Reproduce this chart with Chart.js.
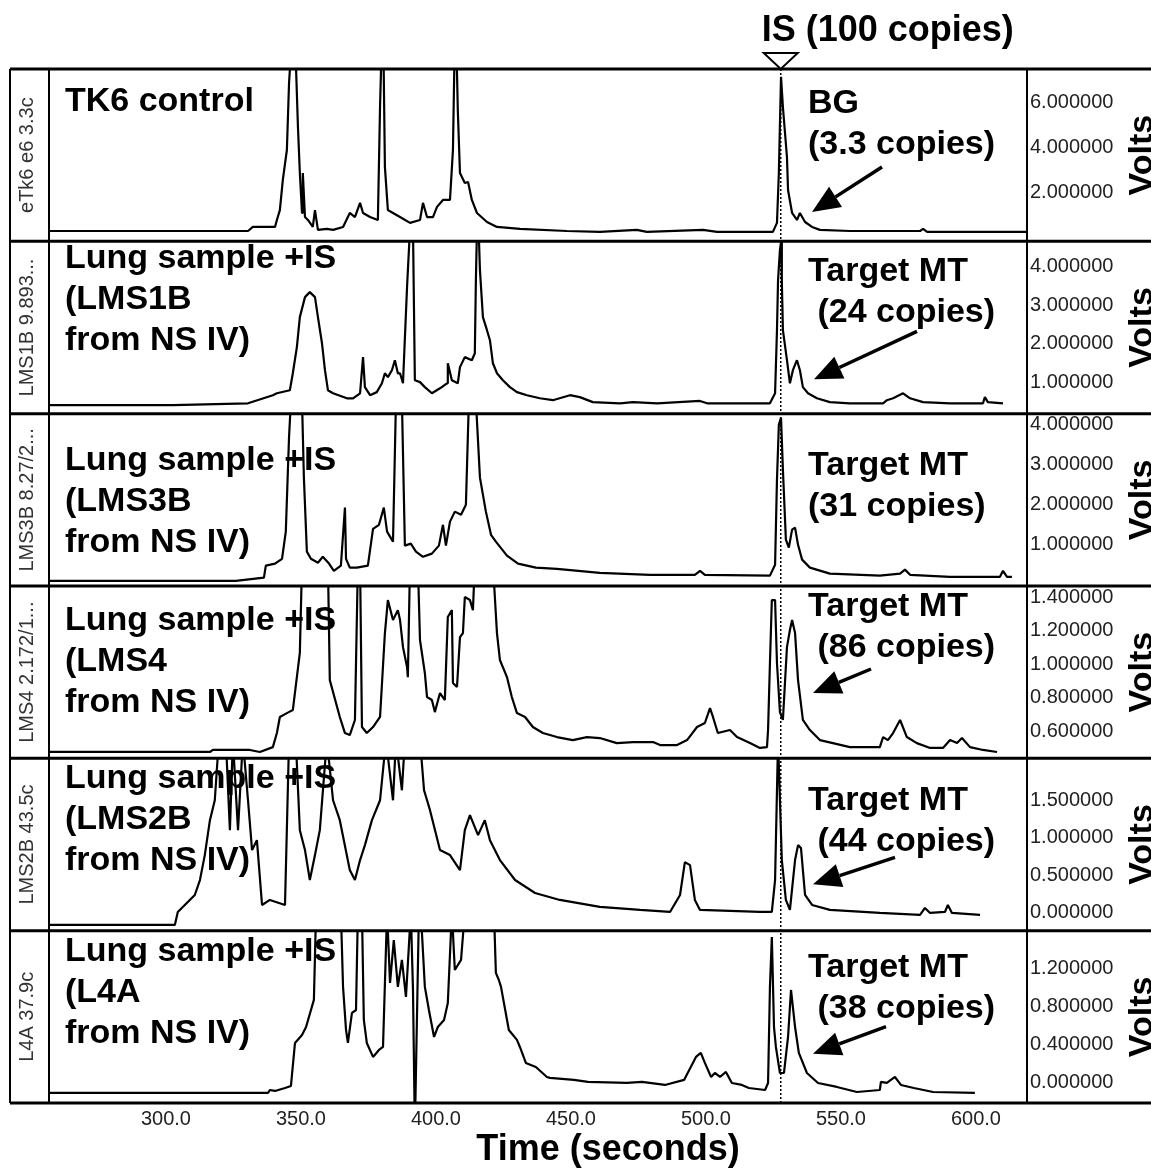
<!DOCTYPE html>
<html>
<head>
<meta charset="utf-8">
<title>CE traces</title>
<script src="https://cdn.jsdelivr.net/npm/chart.js"></script>
<style>
  html, body { margin: 0; padding: 0; background: #fff; }
  #wrap { width: 1151px; height: 1170px; }
</style>
</head>
<body>
<div id="wrap"><canvas id="traces" width="1151" height="1170"></canvas></div>
<script>
// Each trace is a list of [time (s), volts] readings
const tk6Control = [
  [256.7,0.31],[330.4,0.31],[332.2,0.49],[340.4,0.49],[341.1,0.8],[342.2,1.24],[343.3,2.58],[344.8,3.91],
  [345.6,6.89],[346.7,9],[347.8,9],[348.9,4.93],[349.6,2.89],[350.4,1.11],[350.7,2.89],[351.5,0.93],
  [352.6,0.8],[354.4,0.49],[355.2,1.24],[356.3,0.36],[359.6,0.4],[361.9,0.36],[365.6,0.49],[368.1,1.11],
  [370,0.93],[371.9,1.56],[373,1.11],[375.6,0.93],[378.5,0.8],[379.3,5.82],[380,9],[380.5,9],[381.1,3.16],
  [382.2,1.24],[384.1,1.11],[386.7,0.93],[390.4,0.67],[394.1,0.8],[395.2,1.56],[396.7,0.93],[398.9,0.93],
  [400.4,1.38],[402.6,1.69],[405.2,1.69],[406.3,3.91],[407,9],[407.5,9],[408.1,5.69],[408.9,2.89],
  [410.7,2.44],[411.9,2.49],[413.3,1.69],[415.2,1.11],[418.9,0.71],[422.6,0.49],[431.1,0.4],[448.5,0.31],
  [460.7,0.27],[474.4,0.36],[478.1,0.27],[498.9,0.36],[504.1,0.27],[524.8,0.27],[526.3,0.67],[527,2.89],
  [527.8,7.16],[528.5,5.82],[530,3.6],[530.4,2.13],[531.9,1.11],[533.7,0.8],[534.8,1.11],[536.7,0.71],
  [539.3,0.49],[542.2,0.36],[553.3,0.31],[579.3,0.31],[580.4,0.4],[581.9,0.27],[618.9,0.27]
];
const lms1b = [
  [256.7,0.4],[302.6,0.4],[330.4,0.45],[339.6,0.66],[341.1,0.71],[345.9,0.79],[347,1.23],[348.5,1.91],
  [349.6,2.69],[351.5,3.21],[353.3,3.34],[355.2,3.21],[356.3,2.69],[357.8,2.01],[358.9,1.31],[360,0.79],
  [361.9,0.71],[367,0.58],[369.3,0.58],[371.9,0.71],[373,1.65],[373.7,0.87],[375.6,0.66],[378.1,0.74],
  [380,0.97],[381.1,1.23],[382.2,1.13],[383.7,1.31],[384.8,1.57],[385.9,1.23],[386.7,1.23],[387.8,0.97],
  [389.3,3.47],[390.4,5],[391.5,5],[392.2,1.05],[394.1,1.0],[395.9,0.87],[398.5,0.71],[401.5,0.84],
  [404.1,0.97],[404.4,1.49],[405.9,1.05],[408.1,0.97],[408.9,1.39],[410.7,1.65],[413.3,1.57],[414.4,1.75],
  [414.8,3.65],[415.2,5],[415.8,5],[416.3,3.91],[417.4,2.69],[418.9,2.35],[420,2.09],[421.1,1.49],
  [422.6,1.23],[424.8,1.05],[427.4,0.87],[430,0.74],[433.7,0.66],[438.5,0.58],[443.3,0.53],[449.6,0.66],
  [453.3,0.61],[458.1,0.48],[468.1,0.45],[473,0.48],[481.9,0.45],[497.8,0.51],[500.4,0.45],[523.7,0.45],
  [525.6,0.71],[526.3,2.35],[526.7,3.65],[527.4,4.43],[527.8,4.64],[528.1,3.65],[528.5,2.35],[530,1.57],
  [531.1,0.97],[532.2,1.31],[533.7,1.57],[534.8,1.31],[535.9,0.87],[537.8,0.71],[541.1,0.58],[545.9,0.48],
  [553.3,0.45],[565.6,0.45],[567,0.53],[569.3,0.58],[573,0.71],[575.6,0.58],[580.4,0.48],[590.4,0.45],
  [602.6,0.45],[603.3,0.61],[604.4,0.48],[610,0.45]
];
const lms3b = [
  [256.7,0.1],[325.9,0.1],[336.3,0.18],[337,0.48],[340.4,0.53],[343,0.65],[344.4,1.33],[345.6,3.7],
  [346.3,4.6],[350.4,4.6],[351.1,2.68],[352.2,0.83],[353.7,0.65],[356.3,0.55],[358.1,0.7],[360.4,0.53],
  [362.2,0.35],[364.8,0.48],[366.3,1.93],[366.7,0.65],[368.1,0.43],[370.7,0.43],[374.8,0.48],[376.7,1.4],
  [378.9,1.5],[380.7,1.93],[381.9,1.33],[384.1,1.08],[385.2,4.6],[387.4,4.6],[388.5,0.98],[390.7,1.03],
  [392.6,0.83],[395.2,0.7],[398.5,0.78],[401.1,0.98],[402.6,1.5],[403.7,0.98],[405.2,1.58],[407,1.83],
  [409.3,1.75],[411.1,2.0],[412.2,4.6],[414.8,4.6],[416.3,2.68],[418.5,1.83],[420.4,1.25],[422.2,1.08],
  [426.3,0.73],[430.4,0.53],[437,0.43],[444.8,0.4],[460.7,0.3],[479.3,0.25],[495.9,0.25],[497.8,0.35],
  [499.6,0.25],[523.7,0.23],[525.6,0.5],[526.3,2.63],[527,4.0],[527.8,4.18],[528.5,2.88],[529.6,1.13],
  [530.7,0.93],[531.9,1.38],[533,1.43],[534.1,1.0],[535.6,0.63],[538.5,0.43],[545.9,0.28],[564.4,0.23],
  [571.9,0.28],[573.7,0.38],[575.6,0.25],[590.4,0.2],[608.9,0.2],[610,0.35],[611.5,0.2],[613.3,0.2]
];
const lms4 = [
  [256.7,0.475],[316.3,0.475],[317.4,0.487],[331.1,0.487],[334.8,0.475],[339.6,0.504],[341.1,0.588],
  [342.2,0.684],[344.8,0.707],[347,0.725],[349.6,1.066],[350.4,1.6],[360,1.6],[360.7,0.904],[364.4,0.684],
  [366.3,0.588],[368.1,0.576],[370,0.666],[371.1,1.6],[371.9,1.6],[372.6,0.624],[374.4,0.588],[376.7,0.624],
  [379.3,0.684],[381.1,1.185],[382.2,1.382],[384.1,1.263],[385.9,1.322],[386.7,1.263],[387.8,1.101],
  [389.3,0.982],[389.6,0.922],[390.4,1.6],[393.3,1.6],[394.1,1.143],[394.8,1.066],[395.9,0.946],
  [396.7,0.803],[398.5,0.785],[399.6,0.713],[401.5,0.827],[403.3,0.785],[404.4,1.281],[405.9,1.322],
  [406.3,0.887],[407.8,0.863],[408.9,1.161],[410,1.185],[410.7,1.4],[412.6,1.382],[413.7,1.322],[414.4,1.6],
  [421.1,1.6],[422.6,1.185],[423.7,1.024],[426.3,0.922],[428.1,0.803],[430,0.707],[433,0.684],[435.9,0.624],
  [439.6,0.588],[444.8,0.564],[450.7,0.546],[455.9,0.564],[460.7,0.558],[467,0.528],[473,0.534],[480.4,0.534],
  [483,0.516],[489.3,0.516],[493,0.546],[496.7,0.624],[499.6,0.648],[501.5,0.737],[502.6,0.684],[504.4,0.588],
  [508.9,0.606],[511.5,0.564],[516.3,0.528],[520,0.499],[522.6,0.504],[523,0.606],[523.7,1.006],[524.4,1.382],
  [525.6,1.382],[526.3,1.006],[527.4,0.713],[528.5,0.666],[530,1.101],[531.1,1.203],[531.9,1.263],[533,1.185],
  [534.1,0.904],[535.9,0.666],[538.5,0.606],[542.2,0.546],[547,0.528],[553.3,0.504],[564.4,0.504],[565.6,0.564],
  [567.4,0.546],[569.3,0.588],[571.9,0.666],[574.4,0.564],[578.1,0.528],[583,0.499],[587.8,0.499],[590.4,0.546],
  [593,0.528],[594.8,0.558],[597.8,0.504],[602.6,0.487],[607.8,0.475]
];
const lms2b = [
  [256.7,-0.159],[303.3,-0.159],[304.4,0.013],[307,0.106],[310.7,0.239],[312.6,0.438],[314.4,0.77],
  [316.3,1.235],[318.1,1.5],[319.6,2.3],[322.2,2.3],[323.7,1.102],[324.8,2.3],[326.7,1.102],[328.5,2.3],
  [330.4,1.5],[331.9,0.837],[333.7,0.969],[335.6,0.106],[338.5,0.173],[344.1,0.106],[345.6,2.3],[348.1,2.3],
  [349.6,1.102],[351.5,0.837],[353.3,0.438],[355.2,0.77],[357,1.102],[359.6,2.3],[361.9,1.5],[364.4,1.235],
  [368.1,0.571],[370,0.438],[371.9,0.704],[373.7,0.903],[376.3,1.235],[379.3,1.5],[381.5,2.3],[384.1,1.5],
  [385.2,2.3],[387.4,1.633],[388.5,2.3],[394.1,2.3],[395.6,1.633],[397.8,1.368],[401.5,0.837],[405.2,0.77],
  [408.9,0.571],[410.7,1.102],[412.6,1.301],[415.6,1.036],[418.1,1.235],[420,0.969],[423.7,0.704],
  [429.3,0.438],[436.7,0.266],[445.9,0.173],[460.7,0.08],[475.6,0.04],[486.7,0.013],[490.4,0.239],
  [492.2,0.677],[494.1,0.637],[495.9,0.173],[497.8,0.04],[520,0.013],[524.4,0.013],[525.6,0.438],[526.7,2.3],
  [528.1,0.704],[529.6,0.173],[531.1,0.04],[533,0.704],[534.1,0.903],[535.2,0.863],[536.7,0.239],[539.3,0.106],
  [545.9,0.04],[564.4,0],[579.3,-0.027],[581.1,0.066],[583,0],[588.5,0.013],[589.6,0.106],[591.1,0],[601.5,-0.027]
];
const l4a = [
  [256.7,-0.105],[337.8,-0.105],[338.5,-0.074],[340.4,-0.084],[344.1,-0.053],[346.3,-0.032],[347.8,0.421],
  [350.4,0.505],[351.9,0.589],[354.8,0.874],[355.6,1.8],[364.8,1.8],[365.6,1.01],[366.7,0.558],[367.4,0.421],
  [368.9,0.737],[370.4,0.768],[371.1,1.8],[372.6,1.8],[373.3,0.663],[374.4,0.421],[376.7,0.274],[378.9,0.347],
  [380.4,0.379],[381.9,1.8],[383,1.053],[384.4,1.505],[385.9,1.011],[387.4,1.295],[388.9,0.905],[390.7,1.8],
  [391.5,0.979],[392.2,-0.5],[393.7,1.8],[394.4,1.8],[395.9,1.011],[397.4,0.768],[399.3,0.484],[400.7,0.589],
  [403,0.663],[404.4,0.842],[405.9,1.8],[407,1.189],[409.3,1.295],[410.7,1.8],[421.5,1.8],[422.2,1.158],
  [423.3,1.084],[424.1,1.011],[427,0.558],[430,0.453],[431.1,0.379],[433.3,0.211],[437,0.168],[441.1,0.063],
  [442.2,0.053],[451.1,0.032],[456.3,0.011],[470.7,0],[476.3,0.011],[484.8,-0.021],[491.9,0.032],[496.3,0.274],
  [498.1,0.316],[499.6,0.211],[501.9,0.063],[503.3,0.105],[505.2,0.063],[507.4,0.116],[509.6,0],[513.3,-0.021],
  [515.9,-0.053],[521.9,-0.074],[523,0],[523.7,1.011],[524.4,1.537],[525.2,0.589],[525.9,0.379],[527.4,0.105],
  [528.9,0.105],[530.4,0.484],[531.5,0.979],[533,0.589],[534.4,0.316],[537.4,0.105],[541.5,0],[548.5,-0.042],
  [555.9,-0.095],[564.4,-0.074],[564.8,0.011],[567,0],[570,0.063],[572.2,-0.021],[577,-0.053],[584.1,-0.095],
  [599.6,-0.105]
];

const traces = [tk6Control, lms1b, lms3b, lms4, lms2b, l4a];
const sampleIds = ['eTk6 e6 3.3c', 'LMS1B 9.893...', 'LMS3B 8.27/2...', 'LMS4 2.172/1...', 'LMS2B 43.5c', 'L4A 37.9c'];
const sampleNotes = [
  ['TK6 control'],
  ['Lung sample +IS', '(LMS1B', 'from NS IV)'],
  ['Lung sample +IS', '(LMS3B', 'from NS IV)'],
  ['Lung sample +IS', '(LMS4', 'from NS IV)'],
  ['Lung sample +IS', '(LMS2B', 'from NS IV)'],
  ['Lung sample +IS', '(L4A', 'from NS IV)']
];
const peakNotes = [
  ['BG', '(3.3 copies)'],
  ['Target MT', ' (24 copies)'],
  ['Target MT', '(31 copies)'],
  ['Target MT', ' (86 copies)'],
  ['Target MT', ' (44 copies)'],
  ['Target MT', ' (38 copies)']
];
const timeTicks = [300, 350, 400, 450, 500, 550, 600];
const timeRange = [256.7, 618.9];
const voltTicks = [
  [6, 4, 2],
  [4, 3, 2, 1],
  [4, 3, 2, 1],
  [1.4, 1.2, 1.0, 0.8, 0.6],
  [1.5, 1.0, 0.5, 0.0],
  [1.2, 0.8, 0.4, 0.0]
];
const voltRanges = [[-0.15, 7.51], [0.18, 4.66], [-0.03, 4.28], [0.437, 1.466], [-0.236, 2.058], [-0.211, 1.603]];
const isTime = 527.7;
const isLabel = 'IS (100 copies)';

// where the notes and arrows sit inside each panel (offsets from the panel top)
const panelLayout = [
  { noteY: 42, peakY: 44, arrow: [882, 98, 812, 143] },
  { noteY: 27, peakY: 40, arrow: [917, 90, 814, 138] },
  { noteY: 56, peakY: 61, arrow: null },
  { noteY: 44, peakY: 30, arrow: [871, 83, 813, 107] },
  { noteY: 30, peakY: 52, arrow: [895, 99, 813, 126] },
  { noteY: 30, peakY: 46, arrow: [886, 96, 813, 123] }
];

const FONT = '"Liberation Sans", Arial, sans-serif';
Chart.defaults.font.family = FONT;

function drawArrow(ctx, x1, y1, x2, y2) {
  const ang = Math.atan2(y2 - y1, x2 - x1);
  const head = 28, half = 12;
  const bx = x2 - head * Math.cos(ang), by = y2 - head * Math.sin(ang);
  ctx.lineWidth = 3.5;
  ctx.beginPath();
  ctx.moveTo(x1, y1);
  ctx.lineTo(bx, by);
  ctx.stroke();
  ctx.beginPath();
  ctx.moveTo(x2, y2);
  ctx.lineTo(bx + half * Math.sin(ang), by - half * Math.cos(ang));
  ctx.lineTo(bx - half * Math.sin(ang), by + half * Math.cos(ang));
  ctx.closePath();
  ctx.fill();
}

function hline(ctx, x1, x2, y) {
  ctx.beginPath(); ctx.moveTo(x1, y); ctx.lineTo(x2, y); ctx.stroke();
}
function vline(ctx, x, y1, y2) {
  ctx.beginPath(); ctx.moveTo(x, y1); ctx.lineTo(x, y2); ctx.stroke();
}

const panelArt = {
  id: 'panelArt',
  // keep every trace inside its own panel
  beforeDatasetDraw(chart, args) {
    const ys = args.meta.yScale;
    const area = chart.chartArea;
    const ctx = chart.ctx;
    ctx.save();
    ctx.beginPath();
    ctx.rect(area.left, ys.top, area.right - area.left, ys.bottom - ys.top);
    ctx.clip();
  },
  afterDatasetDraw(chart) {
    chart.ctx.restore();
  },
  afterDatasetsDraw(chart) {
    const ctx = chart.ctx;
    const area = chart.chartArea;
    ctx.save();
    ctx.fillStyle = '#000';
    ctx.strokeStyle = '#000';
    ctx.font = 'bold 34px ' + FONT;
    ctx.textAlign = 'left';
    ctx.textBaseline = 'alphabetic';
    panelLayout.forEach((p, i) => {
      const top = chart.scales['y' + i].top;
      sampleNotes[i].forEach((line, k) => ctx.fillText(line, area.left + 16, top + p.noteY + k * 41));
      peakNotes[i].forEach((line, k) => ctx.fillText(line, 808, top + p.peakY + k * 41));
      if (p.arrow) drawArrow(ctx, p.arrow[0], top + p.arrow[1], p.arrow[2], top + p.arrow[3]);
    });
    ctx.restore();
  },
  afterDraw(chart) {
    const ctx = chart.ctx;
    const area = chart.chartArea;
    const W = chart.width;
    ctx.save();
    ctx.strokeStyle = '#000';

    // panel frame
    ctx.lineWidth = 2;
    vline(ctx, 10, area.top, area.bottom);
    vline(ctx, area.left, area.top, area.bottom);
    vline(ctx, area.right, area.top, area.bottom);
    ctx.lineWidth = 3;
    traces.forEach((t, i) => hline(ctx, 10, W, chart.scales['y' + i].top));
    hline(ctx, 10, W, area.bottom);

    // internal standard marker
    const isX = chart.scales.x.getPixelForValue(isTime);
    ctx.lineWidth = 1.5;
    ctx.setLineDash([2, 2]);
    vline(ctx, isX, area.top, area.bottom);
    ctx.setLineDash([]);
    ctx.beginPath();
    ctx.moveTo(isX - 17, area.top - 16);
    ctx.lineTo(isX + 17, area.top - 16);
    ctx.lineTo(isX, area.top);
    ctx.closePath();
    ctx.fillStyle = '#fff';
    ctx.fill();
    ctx.lineWidth = 2;
    ctx.stroke();

    ctx.fillStyle = '#000';
    ctx.font = 'bold 36px ' + FONT;
    ctx.textAlign = 'left';
    ctx.textBaseline = 'alphabetic';
    ctx.fillText(isLabel, isX - 19, 41);

    // x-axis title
    ctx.font = 'bold 36px ' + FONT;
    ctx.textAlign = 'center';
    ctx.fillText('Time (seconds)', 608, 1160);

    // sample ids in the left column and the Volts labels on the right
    traces.forEach((t, i) => {
      const ys = chart.scales['y' + i];
      const mid = (ys.top + ys.bottom) / 2;
      ctx.save();
      ctx.translate(33, mid);
      ctx.rotate(-Math.PI / 2);
      ctx.font = '20px ' + FONT;
      ctx.fillStyle = '#333';
      ctx.textAlign = 'center';
      ctx.fillText(sampleIds[i], 0, 0);
      ctx.restore();

      ctx.save();
      ctx.translate(1152, mid);
      ctx.rotate(-Math.PI / 2);
      ctx.font = 'bold 34px ' + FONT;
      ctx.fillStyle = '#000';
      ctx.textAlign = 'center';
      ctx.fillText('Volts', 0, 0);
      ctx.restore();
    });
    ctx.restore();
  }
};

const scales = {
  x: {
    type: 'linear',
    min: timeRange[0],
    max: timeRange[1],
    afterBuildTicks: s => { s.ticks = timeTicks.map(v => ({ value: v })); },
    afterFit: s => { s.height = 67; },
    grid: { display: false, drawTicks: false },
    border: { display: false },
    ticks: { callback: v => Number(v).toFixed(1), font: { size: 20 }, color: '#222', padding: 4, maxRotation: 0, autoSkip: false }
  }
};
voltTicks.forEach((tickList, i) => {
  scales['y' + i] = {
    type: 'linear',
    position: 'right',
    stack: 'volts',
    stackWeight: 1,
    min: voltRanges[i][0],
    max: voltRanges[i][1],
    afterBuildTicks: s => { s.ticks = tickList.map(v => ({ value: v })); },
    afterFit: s => { s.width = 124; },
    grid: { display: false, drawTicks: false },
    border: { display: false },
    ticks: { callback: v => Number(v).toFixed(6), font: { size: 20 }, color: '#222', padding: 3, autoSkip: false }
  };
});

new Chart(document.getElementById('traces'), {
  type: 'line',
  data: {
    datasets: traces.map((trace, i) => ({
      data: trace.map(([t, v]) => ({ x: t, y: v })),
      yAxisID: 'y' + i,
      borderColor: '#000',
      borderWidth: 2.2,
      borderJoinStyle: 'bevel',
      pointRadius: 0,
      tension: 0,
      fill: false
    }))
  },
  options: {
    responsive: false,
    animation: false,
    events: [],
    layout: { padding: { left: 49, top: 69, right: 0, bottom: 0 } },
    plugins: { legend: { display: false }, tooltip: { enabled: false } },
    scales: scales
  },
  plugins: [panelArt]
});
</script>
</body>
</html>
